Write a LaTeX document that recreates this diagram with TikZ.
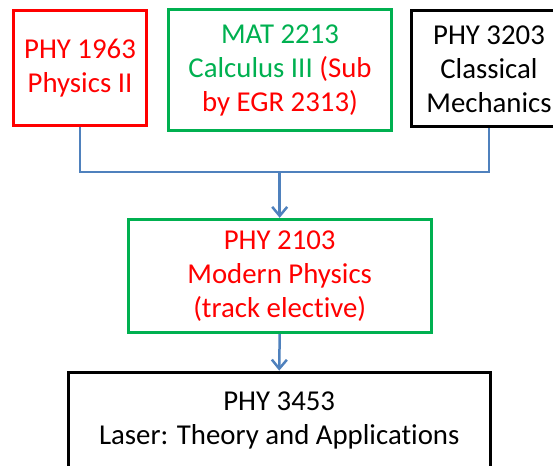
\documentclass[tikz,border=0pt]{standalone}
\usepackage{fontspec}
\setmainfont{Carlito}[Ligatures=NoCommon]
\usepackage{xcolor}
\usepackage{tikz}
\usetikzlibrary{arrows.meta}
\definecolor{offgreen}{RGB}{0,176,80}
\definecolor{linkblue}{RGB}{79,129,189}

\begin{document}
\begin{tikzpicture}[x=1pt, y=1pt,
    box/.style={draw, line width=3.3pt, inner sep=0pt, align=center,
        font=\fontsize{28.8}{34}\selectfont},
    link/.style={draw=linkblue, line width=2.5pt},
    arr/.style={link, -{Straight Barb[length=9pt, width=15pt, line width=2.5pt]}}]
                % Frame
                \useasboundingbox (0, 0) rectangle (553, 465);
                \clip (0, 0) rectangle (553, 465);

                % Top row
                \node[box, draw=red, text=red, minimum width=133pt, minimum height=115pt]
                    (phyA) at (80, 396.7) {PHY 1963\\Physics II};
                \node[box, draw=offgreen, text=offgreen, minimum width=223pt, minimum height=121pt]
                    (matA) at (280, 394.7) {MAT 2213\\Calculus III \textcolor{red}{(Sub}\\\textcolor{red}{by EGR 2313)}};
                \node[box, draw=black, minimum width=155pt, minimum height=116pt]
                    (phyC) at (489, 396.2) {PHY 3203\\Classical\\Mechanics};

                % Middle
                \node[box, draw=offgreen, text=red, minimum width=303pt, minimum height=113pt]
                    (phyM) at (279.7, 189) {PHY 2103\\Modern Physics\\(track elective)};

                % Bottom
                \node[box, draw=black, minimum width=422pt, minimum height=96pt]
                    (phyL) at (279.2, 44.7) {PHY 3453\\Laser: Theory and Applications};

                % Links
                \coordinate (join) at (279.7, 293);
                \draw[link] (phyA.south) |- (join) -| (phyC.south);
                \draw[arr] (join) -- (phyM.north);
                \draw[arr] (phyM.south) -- (phyL.north);
\end{tikzpicture}
\end{document}
